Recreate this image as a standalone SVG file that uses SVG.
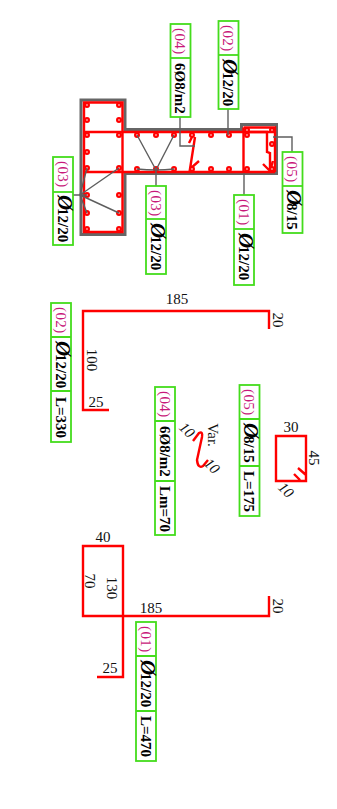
<svg xmlns="http://www.w3.org/2000/svg" width="337" height="809" viewBox="0 0 337 809">
<style>
text{font-family:"Liberation Serif","DejaVu Serif",serif}
.b{fill:#fff;stroke:#44dc1c;stroke-width:1.8}
.d{fill:none;stroke:#44dc1c;stroke-width:1.8}
.m{font-size:15px;fill:#c8187a;letter-spacing:.4px}
.t{font-size:15px;font-weight:bold;fill:#000}
.o{font-size:21px;font-style:italic;font-weight:bold;letter-spacing:-2.200px}
.r{fill:none;stroke:#f00;stroke-width:2.4;stroke-linejoin:miter}
.c{fill:none;stroke:#5e5e5e;stroke-width:1.4}
.dim{font-size:15px;fill:#111}
.dot{fill:#fff;stroke:#f00;stroke-width:2.2}
</style>
<defs><circle id="p" r="1.9" class="dot"/></defs>
<g id="section">
<path d="M81 100H125V129.500H241.500V124.500H276.500V173.500H125V234.500H81Z" fill="none" stroke="#666" stroke-width="3"/>
<path class="r" d="M84 102.500H122.500V232H84ZM84 132H275M84 172H275M122.500 132V172M243.500 127.500H275V172M243.500 127.500V172"/>
<path class="r" d="M243.500 132H267V152L270 153V170M263 164L270 171M270 171L273 161M195 137L190 169L199 161M193 135L189 143"/>
<g id="bars">
<use href="#p" x="87" y="105"/><use href="#p" x="119" y="105"/><use href="#p" x="87" y="120"/><use href="#p" x="119" y="120"/><use href="#p" x="87" y="135"/><use href="#p" x="119" y="135"/><use href="#p" x="87" y="152"/><use href="#p" x="87" y="168"/><use href="#p" x="119" y="168"/><use href="#p" x="87" y="195"/><use href="#p" x="119" y="195"/><use href="#p" x="87" y="213"/><use href="#p" x="119" y="213"/><use href="#p" x="87" y="229"/><use href="#p" x="119" y="229"/>
<use href="#p" x="137" y="135"/><use href="#p" x="156" y="135"/><use href="#p" x="174" y="135"/><use href="#p" x="192" y="135"/><use href="#p" x="211" y="135"/><use href="#p" x="229" y="135"/><use href="#p" x="247" y="130"/><use href="#p" x="247" y="135"/><use href="#p" x="272" y="130"/><use href="#p" x="272" y="144"/><use href="#p" x="272" y="169"/>
<use href="#p" x="137" y="169"/><use href="#p" x="156" y="169"/><use href="#p" x="174" y="169"/><use href="#p" x="192" y="169"/><use href="#p" x="211" y="169"/><use href="#p" x="229" y="169"/><use href="#p" x="247" y="169"/>
</g>
</g>
<g id="connectors">
<path class="c" d="M180 117V146H195M228 109V135M244 173V195M273 137H292V152M156 186V170M156 170L137 135M156 170L174 135M137 169Q147 170 156 170Q165 170 174 169M73 195H80M80 195L87 168M80 195L119 168M80 195L119 213M80 195L87 213M80 195H87"/>
</g>
<g id="shape-02"><path class="r" d="M269 329V311H83V410H109"/>
<text class="dim" x="177" y="304" text-anchor="middle">185</text>
<text class="dim" transform="translate(273 320) rotate(90)" text-anchor="middle">20</text>
<text class="dim" transform="translate(87 360) rotate(90)" text-anchor="middle">100</text>
<text class="dim" x="96" y="407" text-anchor="middle">25</text></g>
<g id="shape-05"><path class="r" d="M276 436H306V481H276ZM298 468L306 475M294 474L300 480"/>
<text class="dim" x="291" y="432" text-anchor="middle">30</text>
<text class="dim" transform="translate(309 458) rotate(90)" text-anchor="middle">45</text>
<text class="dim" transform="translate(282.500 493.500) rotate(45)" text-anchor="middle" font-style="italic">10</text></g>
<g id="shape-04"><path class="r" d="M193 441L199 433Q203 431 202 437L197 460Q198 469 203 466L208 460"/>
<text class="dim" transform="translate(208 435) rotate(90)" text-anchor="middle">Var.</text>
<text class="dim" transform="translate(183.500 433.500) rotate(45)" text-anchor="middle" font-style="italic">10</text>
<text class="dim" transform="translate(208.500 469.500) rotate(45)" text-anchor="middle" font-style="italic">10</text></g>
<g id="shape-01"><path class="r" d="M269 596V616H83V546H123V677H97"/>
<text class="dim" x="103" y="542" text-anchor="middle">40</text>
<text class="dim" transform="translate(85 581) rotate(90)" text-anchor="middle">70</text>
<text class="dim" transform="translate(107 588) rotate(90)" text-anchor="middle">130</text>
<text class="dim" x="151" y="612.500" text-anchor="middle">185</text>
<text class="dim" transform="translate(273 606) rotate(90)" text-anchor="middle">20</text>
<text class="dim" x="110" y="673" text-anchor="middle">25</text></g>
<g id="label-04-a"><rect class="b" x="170.500" y="24" width="20" height="93"/><path class="d" d="M170.500 58H190.500"/>
<text class="m" transform="translate(175 28) rotate(90)">(04)</text>
<text class="t" transform="translate(175 63) rotate(90)">6Ø8/m2</text></g>
<g id="label-02-a"><rect class="b" x="218.500" y="21" width="20" height="88"/><path class="d" d="M218.500 55H238.500"/>
<text class="m" transform="translate(223 25) rotate(90)">(02)</text>
<text class="t" transform="translate(223 59) rotate(90)"><tspan class="o">Ø</tspan>12/20</text></g>
<g id="label-03-a"><rect class="b" x="53" y="157" width="20" height="88"/><path class="d" d="M53 192H73"/>
<text class="m" transform="translate(57.500 161) rotate(90)">(03)</text>
<text class="t" transform="translate(57.500 195) rotate(90)"><tspan class="o">Ø</tspan>12/20</text></g>
<g id="label-03-b"><rect class="b" x="146" y="186" width="20" height="88"/><path class="d" d="M146 219H166"/>
<text class="m" transform="translate(150.500 190) rotate(90)">(03)</text>
<text class="t" transform="translate(150.500 223) rotate(90)"><tspan class="o">Ø</tspan>12/20</text></g>
<g id="label-01-a"><rect class="b" x="234" y="195" width="20" height="90"/><path class="d" d="M234 229H254"/>
<text class="m" transform="translate(238.500 199) rotate(90)">(01)</text>
<text class="t" transform="translate(238.500 233) rotate(90)"><tspan class="o">Ø</tspan>12/20</text></g>
<g id="label-05-a"><rect class="b" x="282.500" y="152" width="20" height="81"/><path class="d" d="M282.500 186H302.500"/>
<text class="m" transform="translate(287 156) rotate(90)">(05)</text>
<text class="t" transform="translate(287 190) rotate(90)"><tspan class="o">Ø</tspan>8/15</text></g>
<g id="label-02-b"><rect class="b" x="51" y="303" width="20" height="139"/><path class="d" d="M51 337H71M51 391H71"/>
<text class="m" transform="translate(55.500 307) rotate(90)">(02)</text>
<text class="t" transform="translate(55.500 341) rotate(90)"><tspan class="o">Ø</tspan>12/20</text>
<text class="t" transform="translate(55.500 397) rotate(90)">L=330</text></g>
<g id="label-04-b"><rect class="b" x="155" y="387" width="20" height="148"/><path class="d" d="M155 421H175M155 481H175"/>
<text class="m" transform="translate(159.500 391) rotate(90)">(04)</text>
<text class="t" transform="translate(159.500 426) rotate(90)">6Ø8/m2</text>
<text class="t" transform="translate(159.500 486) rotate(90)">Lm=70</text></g>
<g id="label-05-b"><rect class="b" x="239.500" y="385" width="20" height="131"/><path class="d" d="M239.500 419H259.500M239.500 466H259.500"/>
<text class="m" transform="translate(244 389) rotate(90)">(05)</text>
<text class="t" transform="translate(244 423) rotate(90)"><tspan class="o">Ø</tspan>8/15</text>
<text class="t" transform="translate(244 471) rotate(90)">L=175</text></g>
<g id="label-01-b"><rect class="b" x="136" y="622" width="20" height="139"/><path class="d" d="M136 656H156M136 711H156"/>
<text class="m" transform="translate(140.500 626) rotate(90)">(01)</text>
<text class="t" transform="translate(140.500 660) rotate(90)"><tspan class="o">Ø</tspan>12/20</text>
<text class="t" transform="translate(140.500 716) rotate(90)">L=470</text></g>
</svg>
